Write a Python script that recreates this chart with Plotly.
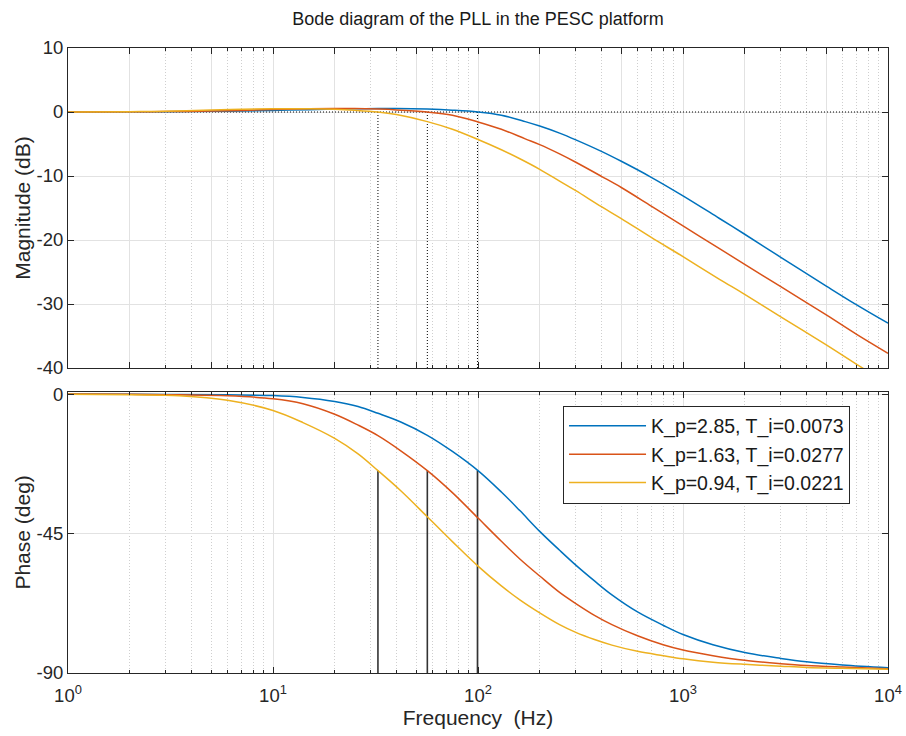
import plotly.graph_objects as go

# ---------------- data ----------------
labels = ["K_p=2.85, T_i=0.0073", "K_p=1.63, T_i=0.0277", "K_p=0.94, T_i=0.0221"]
colors = ["#0072BD", "#D95319", "#EDB120"]

freq_mag = [1, 2, 3, 5, 7, 10, 15, 20, 25, 32.5, 40, 56.6, 75, 100, 130, 170, 200, 250, 300, 400, 500, 700,
            1000, 1500, 2000, 3000, 5000, 7000, 10000]
blue_mag = [0, 0.02, 0.04, 0.1, 0.16, 0.25, 0.37, 0.45, 0.5, 0.55, 0.55, 0.45, 0.28, 0, -0.5, -1.5, -2.2, -3.3,
            -4.35, -6.15, -7.7, -10.2, -13.1, -16.6, -19.1, -22.7, -27.2, -30.1, -33.0]
red_mag = [0, 0.03, 0.06, 0.15, 0.24, 0.38, 0.5, 0.55, 0.53, 0.45, 0.33, 0, -0.5, -1.55, -2.7, -4.2, -5.1, -6.55,
           -7.85, -10.05, -11.8, -14.7, -17.8, -21.3, -23.8, -27.3, -31.7, -34.7, -37.7]
freq_mag_orange = [1, 2, 3, 5, 7, 10, 15, 20, 25, 32.5, 40, 56.6, 75, 100, 130, 160, 200, 250, 300, 400, 500, 700,
                   1000, 1500, 2000, 3000, 5000, 7000, 7600]
orange_mag = [0, 0.05, 0.1, 0.3, 0.42, 0.5, 0.5, 0.42, 0.27, 0, -0.4, -1.5, -2.7, -4.3, -5.9, -7.3, -8.95, -10.8,
              -12.3, -14.8, -16.65, -19.6, -22.6, -26.1, -28.5, -32.0, -36.4, -39.4, -40.1]

freq_ph = [1, 2, 3.5, 6, 10, 14, 20, 26, 32.5, 42, 56.6, 75, 100, 130, 160, 200, 250, 300, 370, 450, 600, 800,
           1000, 1400, 2000, 3000, 4000, 6000, 10000]
blue_ph = [0, -0.05, -0.12, -0.25, -0.5, -1.1, -2.4, -4.0, -6.2, -9.0, -13.3, -18.5, -24.7, -31.6, -37.6, -44.3,
           -50.4, -55.2, -60.3, -64.8, -70.3, -74.6, -77.6, -80.9, -83.4, -85.3, -86.4, -87.4, -88.3]
red_ph = [0, -0.08, -0.25, -0.55, -1.5, -3.1, -6.5, -10.0, -13.4, -18.3, -24.7, -31.8, -40.0, -47.5, -53.2, -58.7,
          -64.0, -67.6, -71.4, -74.4, -78.0, -80.9, -82.6, -84.4, -85.9, -87.0, -87.6, -88.1, -88.6]
orange_ph = [-0.08, -0.25, -0.55, -2.0, -5.3, -9.2, -14.3, -19.3, -24.7, -31.2, -39.6, -47.6, -55.5, -61.9, -66.4,
             -70.6, -74.4, -76.9, -79.2, -81.0, -83.0, -84.4, -85.4, -86.5, -87.2, -87.8, -88.2, -88.5, -88.8]

# 0 dB crossover markers
cross_freq = [99.4, 56.6, 32.5]
cross_phase = [-24.7, -24.7, -24.7]
zero_line_freq = [1, 9100]

x_tickvals = [1, 10, 100, 1000, 10000]
x_ticktext = ["10<sup>0</sup>", "10<sup>1</sup>", "10<sup>2</sup>", "10<sup>3</sup>", "10<sup>4</sup>"]
mag_ticks = [-40, -30, -20, -10, 0, 10]
mag_ticktext = ["-40", "-30", "-20", "-10", "0", "10"]
ph_ticks = [-90, -45, 0]
ph_ticktext = ["-90", "-45", "0"]

# ---------------- figure ----------------
FONT = "Liberation Sans, Arial, Helvetica, sans-serif"
AX = "#262626"
fig = go.Figure()

mags = [(freq_mag, blue_mag), (freq_mag, red_mag), (freq_mag_orange, orange_mag)]
phs = [blue_ph, red_ph, orange_ph]

# reference lines (top): 0 dB dotted and crossover dotted verticals
fig.add_trace(go.Scatter(x=zero_line_freq, y=[0, 0], mode="lines",
                         line=dict(color="black", width=1, dash="1px,2px"),
                         showlegend=False, hoverinfo="skip", xaxis="x", yaxis="y"))
vx, vy = [], []
for f in cross_freq:
    vx += [f, f, None]
    vy += [0, -40, None]
fig.add_trace(go.Scatter(x=vx, y=vy, mode="lines",
                         line=dict(color="black", width=1, dash="1px,2px"),
                         showlegend=False, hoverinfo="skip", xaxis="x", yaxis="y"))

for (fx, m), c, lab in zip(mags, colors, labels):
    fig.add_trace(go.Scatter(x=fx, y=m, mode="lines", name=lab,
                             line=dict(color=c, width=1.5, shape="spline", smoothing=1.0),
                             showlegend=False, xaxis="x", yaxis="y"))

# bottom crossover verticals
px_, py_ = [], []
for f, p in zip(cross_freq, cross_phase):
    px_ += [f, f, None]
    py_ += [-90, p, None]
fig.add_trace(go.Scatter(x=px_, y=py_, mode="lines",
                         line=dict(color="#333333", width=1.6),
                         showlegend=False, hoverinfo="skip", xaxis="x2", yaxis="y2"))

for p, c, lab in zip(phs, colors, labels):
    fig.add_trace(go.Scatter(x=freq_ph, y=p, mode="lines", name=lab,
                             line=dict(color=c, width=1.5, shape="spline", smoothing=1.0),
                             showlegend=True, xaxis="x2", yaxis="y2"))

common_x = dict(type="log", range=[0, 4], showline=True, linecolor=AX, linewidth=1,
                mirror="allticks", ticks="inside", ticklen=6, tickcolor=AX, automargin=False,
                showgrid=True, gridcolor="#e2e2e2", gridwidth=1, zeroline=False,
                minor=dict(ticks="inside", ticklen=3, tickcolor=AX, dtick="D1",
                           showgrid=True, gridcolor="#cfcfcf", griddash="1px,2px", gridwidth=1),
                tickfont=dict(family=FONT, size=18.5, color=AX))
common_y = dict(showline=True, linecolor=AX, linewidth=1, mirror="allticks", automargin=False,
                ticks="inside", ticklen=6, tickcolor=AX, showgrid=True, tickmode="array",
                gridcolor="#e2e2e2", gridwidth=1, zeroline=False,
                tickfont=dict(family=FONT, size=18.5, color=AX))

fig.update_layout(
    width=906, height=736,
    paper_bgcolor="white", plot_bgcolor="white",
    margin=dict(l=68, r=18, t=48, b=63),
    font=dict(family=FONT, color=AX),
    title=dict(text="Bode diagram of the PLL in the PESC platform", x=0.5276, xanchor="center",
               y=1 - 19 / 736, yanchor="middle", yref="container",
               font=dict(family=FONT, size=18, color="#1a1a1a")),
    xaxis=dict(common_x, domain=[0, 1], anchor="y", showticklabels=False, matches="x2"),
    yaxis=dict(common_y, domain=[0.488, 1], anchor="x", range=[-40, 10], tickvals=mag_ticks,
               ticktext=mag_ticktext,
               title=dict(text="Magnitude (dB)", font=dict(family=FONT, size=21, color=AX), standoff=0)),
    xaxis2=dict(common_x, domain=[0, 1], anchor="y2", tickmode="array", tickvals=x_tickvals,
                ticktext=x_ticktext, ticklabelstandoff=6,
                title=dict(text="Frequency\u00a0\u00a0(Hz)", font=dict(family=FONT, size=21, color=AX), standoff=3)),
    yaxis2=dict(common_y, domain=[0, 0.45], anchor="x2", range=[-90, 0.75], tickvals=ph_ticks,
                ticktext=ph_ticktext,
                title=dict(text="Phase (deg)", font=dict(family=FONT, size=21, color=AX), standoff=0)),
    legend=dict(x=0.6037, y=0.4277, xanchor="left", yanchor="top",
                bgcolor="white", bordercolor=AX, borderwidth=1,
                font=dict(family=FONT, size=19.5, color="#1a1a1a"),
                itemwidth=77, tracegroupgap=0),
    hovermode=False,
)

fig.write_html("out.html", config={"displayModeBar": False},
               post_script="document.body.style.margin='0px';")
